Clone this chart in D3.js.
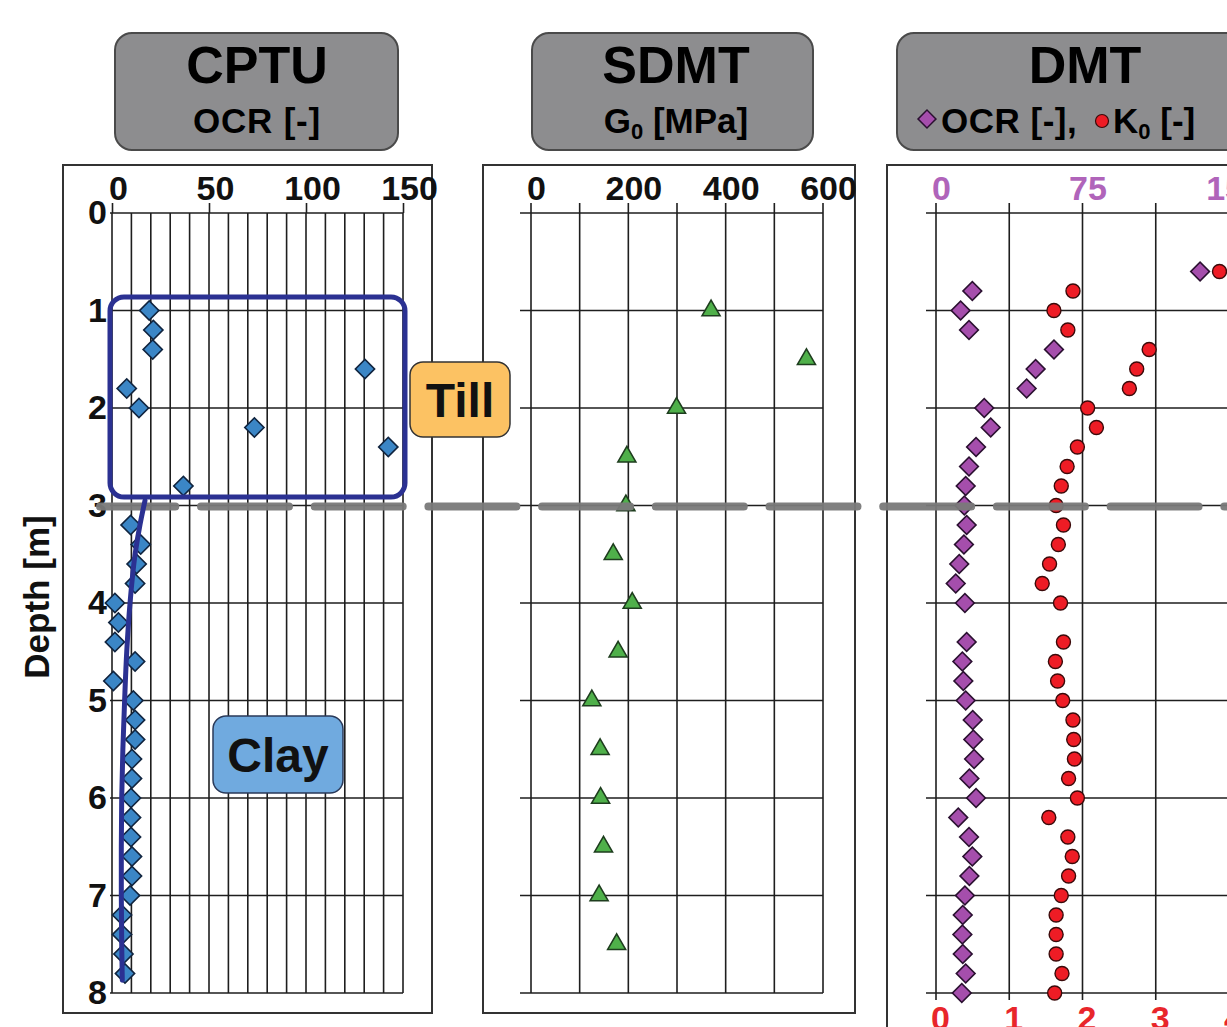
<!DOCTYPE html>
<html><head><meta charset="utf-8">
<script src="https://cdn.jsdelivr.net/npm/d3@7"></script>
<style>
body{margin:0;background:#fff}
svg{display:block}
text{font-family:"Liberation Sans",Arial,Helvetica,sans-serif;font-weight:bold}
</style>
</head><body>
<svg id="c" width="1227" height="1027"></svg>
<script>
// ---------- data ----------
const depthTicks = [0,1,2,3,4,5,6,7,8];
const cptuTicks = [0,50,100,150];
const cptuGrid = [0,10,20,30,40,50,60,70,80,90,100,110,120,130,140,150];
const sdmtTicks = [0,200,400,600];
const sdmtGrid = [0,100,200,300,400,500,600];
const dmtOcrTicks = [0,75,150];
const dmtK0Ticks = [0,1,2,3,4];

const cptuDepth = [1.0,1.2,1.4,1.6,1.8,2.0,2.2,2.4,2.8,3.2,3.4,3.6,3.8,4.0,4.2,4.4,4.6,4.8,5.0,5.2,5.4,5.6,5.8,6.0,6.2,6.4,6.6,6.8,7.0,7.2,7.4,7.6,7.8];
const cptuOCR   = [19.2,21.3,21.0,130.4,7.6,13.9,73.4,142.4,36.8,9.6,14.8,12.7,11.9,1.5,3.3,1.5,11.9,0.7,11.0,11.9,11.9,10.3,10.3,9.8,9.8,9.8,10.3,10.3,9.3,5.2,5.2,5.9,6.7];

const trendDepth = [2.95,3.2,3.5,4.0,4.5,5.0,5.5,6.0,6.5,7.0,7.5,7.87];
const trendOCR   = [17.0,14.4,11.9,9.3,7.6,6.5,5.6,5.0,4.8,4.8,5.0,5.3];

const sdmtDepth = [1.0,1.5,2.0,2.5,3.0,3.5,4.0,4.5,5.0,5.5,6.0,6.5,7.0,7.5];
const sdmtG0    = [370,566,299,197,195,169,208,179,125,142,143,149,140,176];

const dmtDepth = [0.6,0.8,1.0,1.2,1.4,1.6,1.8,2.0,2.2,2.4,2.6,2.8,3.0,3.2,3.4,3.6,3.8,4.0,4.4,4.6,4.8,5.0,5.2,5.4,5.6,5.8,6.0,6.2,6.4,6.6,6.8,7.0,7.2,7.4,7.6,7.8,8.0];
const dmtOCR   = [135.2,18.6,12.6,16.9,60.4,51.0,46.4,24.7,28.0,20.5,16.9,15.2,14.5,15.7,14.3,11.9,10.1,14.8,15.7,13.5,14.0,15.2,18.8,19.1,19.5,17.1,20.5,11.4,16.9,18.6,17.1,14.8,13.7,13.5,13.7,15.2,13.2];
const dmtK0    = [3.87,1.87,1.61,1.80,2.91,2.74,2.64,2.07,2.19,1.93,1.79,1.71,1.64,1.74,1.67,1.55,1.45,1.70,1.74,1.63,1.66,1.73,1.87,1.88,1.89,1.81,1.93,1.54,1.80,1.86,1.81,1.71,1.64,1.64,1.64,1.72,1.62];

const layerDepth = 3;

// ---------- setup ----------
const svg = d3.select("#c");
svg.append("rect").attr("width",1227).attr("height",1027).attr("fill","#fff");

const y = d3.scaleLinear([0,8],[213,993]);
const xC = d3.scaleLinear([0,150],[112,403]);
const xS = d3.scaleLinear([0,600],[531,823]);
const xDo = d3.scaleLinear([0,150],[936,1229]);
const xDk = d3.scaleLinear([0,4],[936,1229]);

const gridCol = "#1e1e1e";

// title boxes
function titleBox(x, w) {
  svg.append("rect").attr("x",x).attr("y",33).attr("width",w).attr("height",117)
    .attr("rx",17).attr("fill","#8d8d8f").attr("stroke","#4a4a4a").attr("stroke-width",2);
}
titleBox(115,283); titleBox(532,281); titleBox(897,372);

svg.append("text").attr("x",257).attr("y",83).attr("text-anchor","middle").attr("font-size",52).text("CPTU");
svg.append("text").attr("x",257).attr("y",133).attr("text-anchor","middle").attr("font-size",35).attr("letter-spacing",0.8).text("OCR [-]");
svg.append("text").attr("x",676).attr("y",83).attr("text-anchor","middle").attr("font-size",52).text("SDMT");
const g0t = svg.append("text").attr("x",676).attr("y",133).attr("text-anchor","middle").attr("font-size",35);
g0t.append("tspan").text("G");
g0t.append("tspan").attr("font-size",22).attr("dy",6).text("0");
g0t.append("tspan").attr("dy",-6).text(" [MPa]");
svg.append("text").attr("x",1085).attr("y",83).attr("text-anchor","middle").attr("font-size",52).text("DMT");

// legend in DMT title
const sq = d3.symbol().type(d3.symbolSquare);
svg.append("path").attr("d",sq.size(160)()).attr("transform","translate(927,119) rotate(45)")
  .attr("fill","#a54eac").attr("stroke","#2a1030").attr("stroke-width",1.5);
svg.append("text").attr("x",941).attr("y",133).attr("font-size",35).attr("letter-spacing",0.5).text("OCR [-],");
svg.append("circle").attr("cx",1102).attr("cy",121).attr("r",6.5).attr("fill","#ee1c25").attr("stroke","#3a0a0a").attr("stroke-width",1.2);
const k0t = svg.append("text").attr("x",1113).attr("y",133).attr("font-size",35);
k0t.append("tspan").text("K");
k0t.append("tspan").attr("font-size",22).attr("dy",6).text("0");
k0t.append("tspan").attr("dy",-6).text(" [-]");

// frames
svg.append("rect").attr("x",63).attr("y",165).attr("width",369).attr("height",848).attr("fill","none").attr("stroke","#333").attr("stroke-width",2);
svg.append("rect").attr("x",483).attr("y",165).attr("width",372).attr("height",848).attr("fill","none").attr("stroke","#333").attr("stroke-width",2);
svg.append("rect").attr("x",887).attr("y",165).attr("width",400).attr("height",900).attr("fill","none").attr("stroke","#333").attr("stroke-width",2);

// grids
function hgrid(x0, x1) {
  svg.append("g").selectAll("line").data(depthTicks).join("line")
    .attr("x1",x0).attr("x2",x1).attr("y1",d=>y(d)).attr("y2",d=>y(d))
    .attr("stroke",gridCol).attr("stroke-width",1.6);
}
// CPTU verticals
svg.append("g").selectAll("line").data(cptuGrid).join("line")
  .attr("x1",d=>xC(d)).attr("x2",d=>xC(d)).attr("y1",y(0)).attr("y2",y(8))
  .attr("stroke",gridCol).attr("stroke-width",1.6);
hgrid(110, xC(150));
// SDMT
svg.append("g").selectAll("line").data(sdmtGrid).join("line")
  .attr("x1",d=>xS(d)).attr("x2",d=>xS(d)).attr("y1",203).attr("y2",y(8))
  .attr("stroke",gridCol).attr("stroke-width",1.6);
hgrid(520, xS(600));
// DMT
svg.append("g").selectAll("line").data(dmtK0Ticks).join("line")
  .attr("x1",d=>xDk(d)).attr("x2",d=>xDk(d)).attr("y1",203).attr("y2",1000)
  .attr("stroke",gridCol).attr("stroke-width",1.6);
hgrid(926, 1240);

// axes
function styleAxis(g, size, color, dx) {
  g.select(".domain").remove();
  g.selectAll(".tick line").attr("stroke",gridCol).attr("stroke-width",1.6);
  g.selectAll(".tick text").attr("font-size",size).attr("fill",color).attr("dx",dx||0)
    .attr("font-family","'Liberation Sans',Arial,sans-serif").attr("font-weight","bold");
}
svg.append("g").attr("transform",`translate(0,${y(0)})`)
  .call(d3.axisTop(xC).tickValues(cptuTicks).tickSize(10).tickPadding(3).tickFormat(d3.format("d")))
  .call(g=>styleAxis(g,34,"#111",6));
svg.append("g").attr("transform",`translate(${xC(0)},0)`)
  .call(d3.axisLeft(y).tickValues(depthTicks).tickSize(0).tickPadding(5).tickFormat(d3.format("d")))
  .call(g=>styleAxis(g,34,"#111",0));
svg.append("g").attr("transform",`translate(0,${y(0)})`)
  .call(d3.axisTop(xS).tickValues(sdmtTicks).tickSize(0).tickPadding(13).tickFormat(d3.format("d")))
  .call(g=>styleAxis(g,34,"#111",5));
svg.append("g").attr("transform",`translate(0,${y(0)})`)
  .call(d3.axisTop(xDo).tickValues(dmtOcrTicks).tickSize(0).tickPadding(13).tickFormat(d3.format("d")))
  .call(g=>styleAxis(g,34,"#b064ba",5));
svg.append("g").attr("transform",`translate(0,${y(8)})`)
  .call(d3.axisBottom(xDk).tickValues(dmtK0Ticks).tickSize(0).tickPadding(13).tickFormat(d3.format("d")))
  .call(g=>styleAxis(g,34,"#e8262b",4));

svg.append("text").attr("transform","translate(49,597) rotate(-90)").attr("text-anchor","middle")
  .attr("font-size",35).attr("fill","#111").text("Depth [m]");

// markers
const diamondPath = sq.size(185)();
svg.append("g").selectAll("path").data(cptuDepth).join("path")
  .attr("d",diamondPath)
  .attr("transform",(d,i)=>`translate(${xC(cptuOCR[i])},${y(d)}) rotate(45)`)
  .attr("fill","#3b86c6").attr("stroke","#10243f").attr("stroke-width",1.6);

const tri = d3.symbol().type(d3.symbolTriangle).size(140)();
svg.append("g").selectAll("path").data(sdmtDepth).join("path")
  .attr("d",tri)
  .attr("transform",(d,i)=>`translate(${xS(sdmtG0[i])},${y(d)})`)
  .attr("fill","#4fb04a").attr("stroke","#1e3d1e").attr("stroke-width",1.6);

const dPath = sq.size(175)();
svg.append("g").selectAll("path").data(dmtDepth).join("path")
  .attr("d",dPath)
  .attr("transform",(d,i)=>`translate(${xDo(dmtOCR[i])},${y(d)}) rotate(45)`)
  .attr("fill","#a54eac").attr("stroke","#2a1030").attr("stroke-width",1.6);
svg.append("g").selectAll("circle").data(dmtDepth).join("circle")
  .attr("cx",(d,i)=>xDk(dmtK0[i])).attr("cy",d=>y(d)).attr("r",7)
  .attr("fill","#ee1c25").attr("stroke","#3a0a0a").attr("stroke-width",1.4);

// layer boundary dashed line
svg.append("line").attr("x1",100).attr("x2",1240).attr("y1",y(layerDepth)+1).attr("y2",y(layerDepth)+1)
  .attr("stroke","#7a7a7a").attr("stroke-width",8).attr("stroke-linecap","round")
  .attr("stroke-dasharray","88 25.7").attr("stroke-dashoffset",12.7).attr("opacity",0.95);

// CPTU till box and trend line
svg.append("rect").attr("x",110).attr("y",297).attr("width",295).attr("height",200).attr("rx",14)
  .attr("fill","none").attr("stroke","#2b3192").attr("stroke-width",5);
const trendLine = d3.line().x((d,i)=>xC(trendOCR[i])).y(d=>y(d)).curve(d3.curveMonotoneY);
svg.append("path").attr("d",trendLine(trendDepth)).attr("fill","none")
  .attr("stroke","#2b3192").attr("stroke-width",5).attr("stroke-linecap","round");

// labels
svg.append("rect").attr("x",410).attr("y",362).attr("width",100).attr("height",75).attr("rx",13)
  .attr("fill","#fcc263").attr("stroke","#333").attr("stroke-width",1.5);
svg.append("text").attr("x",460).attr("y",417).attr("text-anchor","middle").attr("font-size",48).attr("fill","#111").text("Till");
svg.append("rect").attr("x",213).attr("y",716).attr("width",130).attr("height",77).attr("rx",13)
  .attr("fill","#70aadf").attr("stroke","#2a3a5a").attr("stroke-width",1.5);
svg.append("text").attr("x",278).attr("y",772).attr("text-anchor","middle").attr("font-size",48).attr("fill","#111").text("Clay");
</script>
</body></html>
